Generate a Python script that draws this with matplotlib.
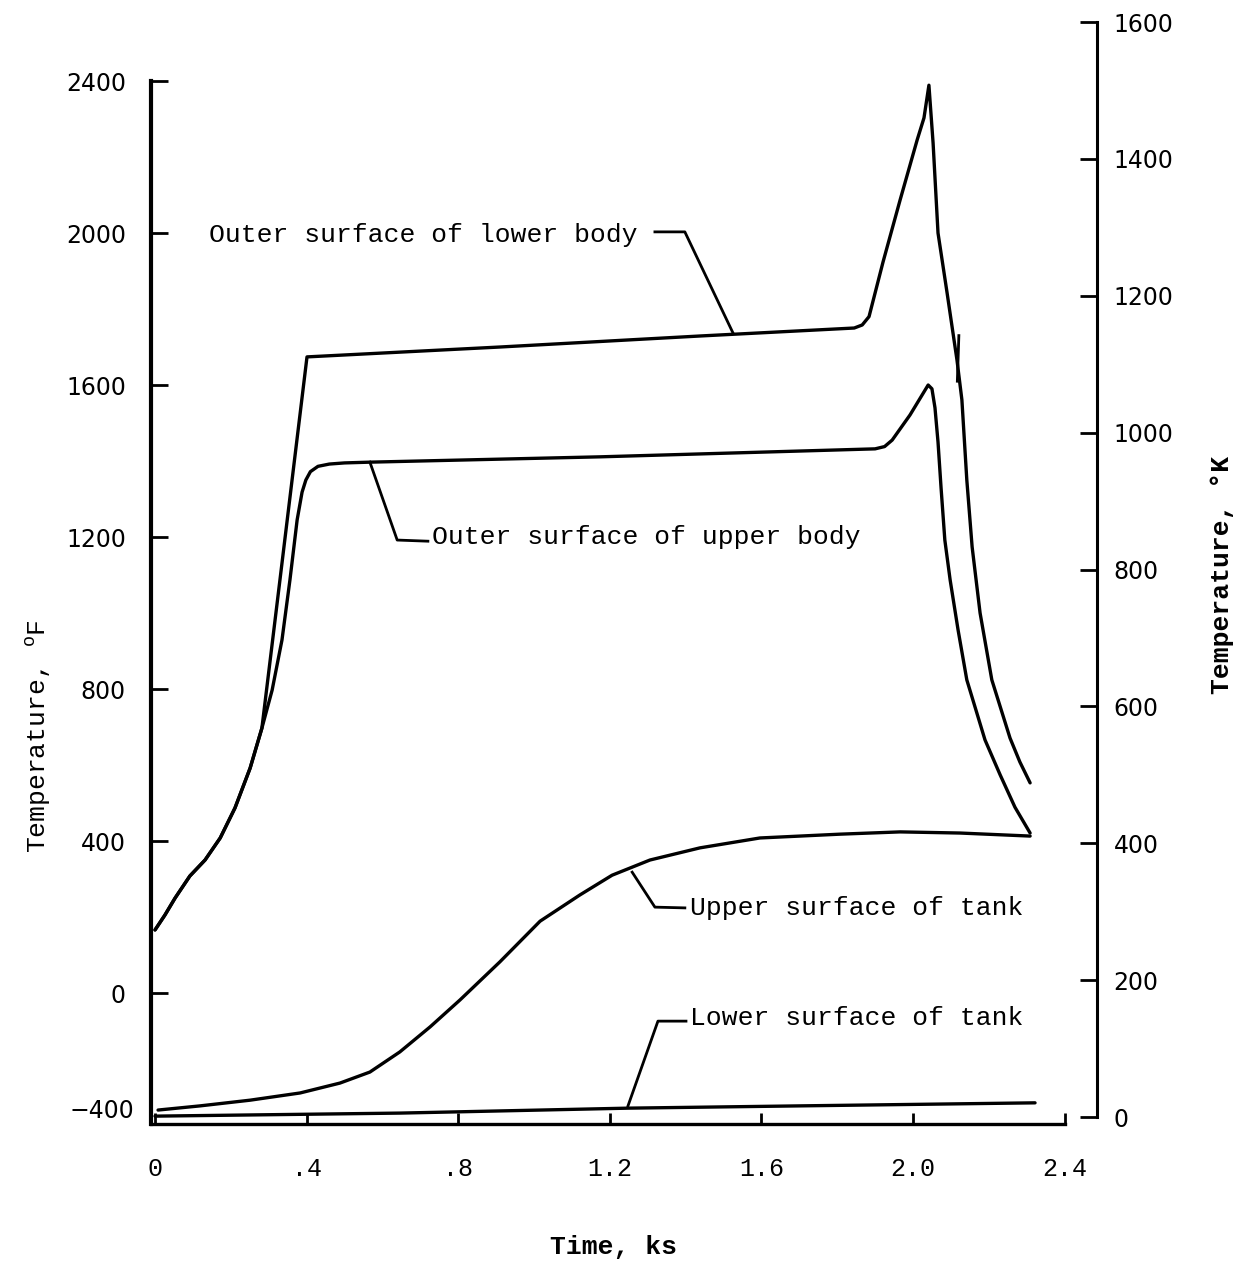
import matplotlib
matplotlib.use("Agg")
import matplotlib.pyplot as plt

plt.rcParams["mathtext.fontset"] = "custom"
plt.rcParams["mathtext.rm"] = "Liberation Mono"

# time in ks, temperature in deg F
t_lower_body = [0.0, 0.026, 0.053, 0.092, 0.132, 0.172, 0.211, 0.251, 0.282,
                0.33, 0.401, 0.91, 1.438, 1.845, 1.866, 1.884, 1.921, 1.966,
                2.011, 2.029, 2.042, 2.053, 2.066, 2.09, 2.116, 2.129, 2.142,
                2.156, 2.177, 2.208, 2.256, 2.282, 2.309]
T_lower_body = [166, 205, 250, 308, 350, 408, 487, 592, 697,
                1090, 1674, 1700, 1729, 1750, 1758, 1780, 1924, 2087,
                2245, 2303, 2389, 2237, 2000, 1842, 1666, 1561, 1350,
                1174, 1000, 824, 671, 608, 553]

t_upper_body = [0.0, 0.026, 0.053, 0.092, 0.132, 0.172, 0.211, 0.251, 0.282,
                0.309, 0.335, 0.356, 0.375, 0.388, 0.398, 0.41, 0.43, 0.46,
                0.5, 0.567, 1.174, 1.9, 1.925, 1.945, 1.992, 2.04, 2.05,
                2.058, 2.066, 2.074, 2.084, 2.098, 2.119, 2.142, 2.19, 2.23,
                2.269, 2.309]
T_upper_body = [166, 205, 250, 308, 350, 408, 487, 592, 697,
                797, 929, 1087, 1245, 1318, 1350, 1372, 1386, 1392,
                1395, 1397, 1411, 1432, 1438, 1455, 1521, 1600, 1590,
                1540, 1450, 1330, 1192, 1087, 955, 824, 666, 574,
                489, 421]

t_upper_tank = [0.008, 0.119, 0.251, 0.383, 0.488, 0.567, 0.646, 0.726, 0.805,
                0.91, 1.016, 1.121, 1.206, 1.306, 1.438, 1.596, 1.807, 1.966,
                2.124, 2.309]
T_upper_tank = [-308, -297, -282, -263, -237, -208, -155, -89, -18,
                82, 189, 258, 310, 350, 382, 408, 418, 424,
                421, 413]

t_lower_tank = [0.0, 0.646, 1.248, 1.702, 2.322]
T_lower_tank = [-324, -316, -303, -297, -289]

# hand-drawn stroke near the lower-body cool-down
t_stroke = [2.117, 2.121]
T_stroke = [1610, 1730]

F_ticks = [0, 400, 800, 1200, 1600, 2000, 2400]
K_ticks = [0, 200, 400, 600, 800, 1000, 1200, 1400, 1600]
t_ticks = [0, 0.4, 0.8, 1.2, 1.6, 2.0, 2.4]
t_labels = ["0", ".4", ".8", "1.2", "1.6", "2.0", "2.4"]

mono = "Liberation Mono"

fig = plt.figure(figsize=(12.35, 12.66), dpi=100)
ax = fig.add_axes([151 / 1235, 1 - 1124 / 1266, 946 / 1235, 1102 / 1266])

lw = 2.4
style = dict(color="black", lw=lw, solid_joinstyle="round", solid_capstyle="round")
ax.plot(t_lower_body, T_lower_body, **style)
ax.plot(t_upper_body, T_upper_body, **style)
ax.plot(t_upper_tank, T_upper_tank, **style)
ax.plot(t_lower_tank, T_lower_tank, **style)
ax.plot(t_stroke, T_stroke, color="black", lw=2.0)

ax.set_xlim(-0.0106, 2.4855)
ax.set_ylim(-344.7, 2555.3)

for s in ["top", "right"]:
    ax.spines[s].set_visible(False)
ax.spines["left"].set_linewidth(3.0)
ax.spines["bottom"].set_linewidth(2.4)
ax.spines["left"].set_bounds(-344.7, 2400)
ax.spines["bottom"].set_bounds(-0.0106, 2.4)

ax.set_xticks(t_ticks)
ax.set_xticklabels(t_labels, family=mono, fontsize=18)
ax.set_yticks(F_ticks)
ax.set_yticklabels([str(v) for v in F_ticks], fontsize=17)
ax.tick_params(axis="x", direction="in", length=8, width=2.0, pad=24)
ax.tick_params(axis="y", direction="in", length=12, width=2.0, pad=18)
ax.text(-0.055, -310, "\u2212400", fontsize=17, ha="right", va="center")

ax2 = ax.twinx()
ax2.set_ylim(-10.2, 1600)
for s in ["top", "left", "bottom"]:
    ax2.spines[s].set_visible(False)
ax2.spines["right"].set_linewidth(2.2)
ax2.spines["right"].set_bounds(0, 1600)
ax2.set_yticks(K_ticks)
ax2.set_yticklabels([str(v) for v in K_ticks], fontsize=17)
ax2.tick_params(axis="y", direction="in", length=12, width=2.0, pad=12)

# leaders and curve labels
leader = dict(color="black", lw=2.0)
ax.plot([1.319, 1.398, 1.525], [2003, 2003, 1737], **leader)
ax.text(1.274, 1995, "Outer surface of lower body", family=mono,
        fontsize=19, ha="right", va="center")
ax.plot([0.567, 0.639, 0.72], [1397, 1192, 1189], **leader)
ax.text(0.731, 1200, "Outer surface of upper body", family=mono,
        fontsize=19, ha="left", va="center")
ax.plot([1.259, 1.319, 1.398], [318, 226, 224], **leader)
ax.text(1.412, 224, "Upper surface of tank", family=mono,
        fontsize=19, ha="left", va="center")
ax.plot([1.248, 1.327, 1.401], [-297, -74, -74], **leader)
ax.text(1.412, -66, "Lower surface of tank", family=mono,
        fontsize=19, ha="left", va="center")

fig.text(613 / 1235, 1 - 1247 / 1266, "Time, ks", family=mono,
         fontsize=19, weight="bold", ha="center", va="center")
fig.text(38 / 1235, 1 - 736 / 1266, r"Temperature, $^{\mathrm{o}}$F",
         family=mono, fontsize=19, rotation=90, ha="center", va="center")
fig.text(1222 / 1235, 1 - 575 / 1266, "Temperature, \u00b0K", family=mono,
         fontsize=19, weight="bold", rotation=90, ha="center", va="center")

fig.savefig("out.png", dpi=100)
